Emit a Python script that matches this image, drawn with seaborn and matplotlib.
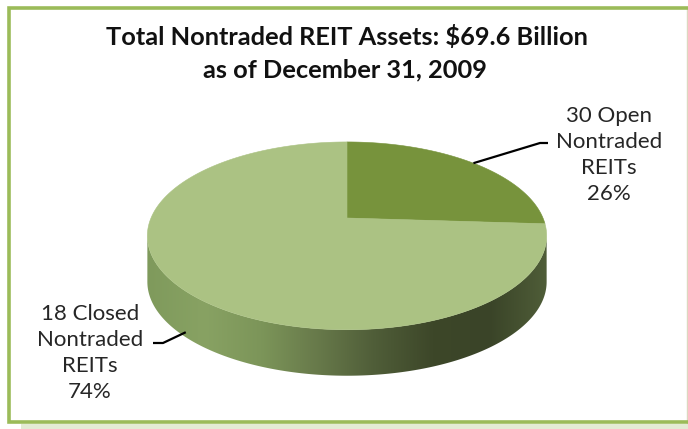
import numpy as np
import matplotlib
matplotlib.use("Agg")
import matplotlib.pyplot as plt
import seaborn as sns
from matplotlib.patches import Polygon, Rectangle

# ---- data ----
categories = ["30 Open\nNontraded\nREITs", "18 Closed\nNontraded\nREITs"]
shares = [26, 74]
slice_colors = ["#77933C", "#ABC283"]
title_lines = ["Total Nontraded REIT Assets: $69.6 Billion", "as of December 31, 2009"]

sns.set_theme(style="white")
plt.rcParams["font.family"] = ["Lato", "DejaVu Sans"]

W, H = 688, 429
fig = plt.figure(figsize=(W / 100, H / 100), dpi=100)
fig.patch.set_facecolor("white")
ax = fig.add_axes([0, 0, 1, 1])
ax.set_xlim(0, W)
ax.set_ylim(H, 0)
ax.axis("off")

# ---- perspective disc: angle measured clockwise from the far point ----
CX, CY = 347.0, 218.0      # projected centre of the disc
RX = 196.0                 # horizontal radius
TILT = 0.19                # perspective foreshortening
KZ = -90.5                 # vertical scale of depth axis
DEPTH = 46.0               # thickness of the disc


def rim(theta_deg):
    t = np.radians(theta_deg)
    x, z = np.sin(t), np.cos(t)
    w = 1 + TILT * z
    return CX + RX * x / w, CY + KZ * z / w


# side wall (front half, between the two silhouette points)
th_r = np.degrees(np.arccos(-TILT))
th_l = 360 - th_r
ts = np.linspace(th_r, th_l, 200)
ux, uy = rim(ts)
side_pts = np.column_stack([np.r_[ux, ux[::-1]], np.r_[uy, uy[::-1] + DEPTH]])
side = Polygon(side_pts, closed=True, facecolor="none", edgecolor="none", zorder=2)
ax.add_patch(side)

# shading of the wall, lit from the left
grad = sns.blend_palette(
    ["#7F9A5C", "#88A263", "#7C9559", "#67794A", "#4F5D38", "#3D4729",
     "#3A4428", "#4F5D38"],
    n_colors=256,
)
img = np.array(grad).reshape(1, 256, 3)
im = ax.imshow(img, extent=(ux.min(), ux.max(), uy.max() + DEPTH + 2, CY - 10),
               aspect="auto", zorder=2, interpolation="bilinear")
im.set_clip_path(side)

# top face wedges from the shares
total = float(sum(shares))
start = 0.0
mids = []
for val, col in zip(shares, slice_colors):
    span = 360.0 * val / total
    arc = np.linspace(start, start + span, 200)
    ax_, ay_ = rim(arc)
    pts = np.column_stack([np.r_[CX, ax_], np.r_[CY, ay_]])
    ax.add_patch(Polygon(pts, closed=True, facecolor=col, edgecolor=col,
                         linewidth=0.4, zorder=3))
    mids.append(start + span / 2)
    start += span

# ---- labels with leader lines ----
txt_kw = dict(fontsize=16, color="#262626", ha="center", va="center",
              linespacing=1.36, zorder=5)

# open REITs (first share)
mx, my = rim(mids[0])
ax.plot([mx, 540, 548], [my, 143, 143], color="black", lw=1.6, zorder=4,
        solid_capstyle="butt")
ax.text(609, 155, f"{categories[0]}\n{shares[0]}%", **txt_kw)

# closed REITs (second share) - anchored on the side wall
mx, my = rim(mids[1])
my += DEPTH
ax.plot([mx + 3, 163, 153], [my - 3, 343, 343], color="black", lw=1.6, zorder=4,
        solid_capstyle="butt")
ax.text(90, 353, f"{categories[1]}\n{shares[1]}%", **txt_kw)

# ---- title ----
ax.text(347, 37, title_lines[0], fontsize=18.3, fontweight="bold", color="#111111",
        ha="center", va="center")
ax.text(345, 70, title_lines[1], fontsize=18.3, fontweight="bold", color="#111111",
        ha="center", va="center")

# ---- frame ----
ax.add_patch(Rectangle((21, 423.5), W, 6, facecolor="#E3EBD4", edgecolor="none", zorder=0))
ax.plot([W - 1, W - 1], [8, 423], color="#DCD8C0", lw=1.0, zorder=1)
ax.plot([W + 5, 8.5, 8.5, W + 5], [7.5, 7.5, 422, 422], color="#9BBB59", lw=2.6,
        zorder=6, solid_joinstyle="miter")

fig.savefig("out.png", dpi=100, facecolor="white")
